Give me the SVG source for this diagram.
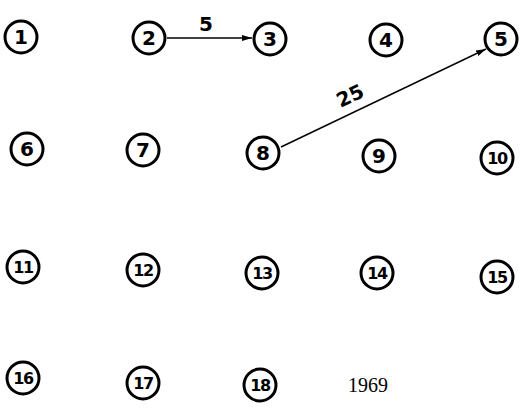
<svg xmlns="http://www.w3.org/2000/svg" width="525" height="410" viewBox="0 0 525 410">
<style>
.n circle{fill:#fff;stroke:#000;stroke-width:3}
.n text{font-family:"DejaVu Sans","Liberation Sans",sans-serif;font-size:20px;font-weight:bold;text-anchor:middle;dominant-baseline:central;fill:#000}
.n text.s{font-size:16px;letter-spacing:-1.5px}
.e{stroke:#000;stroke-width:1.4;fill:none}
.l{font-family:"DejaVu Sans","Liberation Sans",sans-serif;font-size:20px;font-weight:bold;fill:#000}
</style>
<defs>
<marker id="ah" viewBox="0 0 10 6" refX="10" refY="3" markerWidth="10" markerHeight="6" markerUnits="userSpaceOnUse" orient="auto">
<path d="M0,0 L10,3 L0,6 Z" fill="#000"/>
</marker>
</defs>
<g id="connectors">
<line class="e" x1="167" y1="38" x2="252" y2="38" marker-end="url(#ah)"/>
<text class="l" x="206" y="31" text-anchor="middle">5</text>
<line class="e" x1="281" y1="147" x2="486" y2="49" marker-end="url(#ah)"/>
<text class="l" x="353" y="102" text-anchor="middle" transform="rotate(-25 353 102)">25</text>
</g>
<g id="n1" class="n"><circle cx="21" cy="37" r="16"/><text x="21" y="37">1</text></g>
<g id="n2" class="n"><circle cx="149" cy="38" r="16"/><text x="149" y="38">2</text></g>
<g id="n3" class="n"><circle cx="270" cy="39" r="16"/><text x="270" y="39">3</text></g>
<g id="n4" class="n"><circle cx="386" cy="40" r="16"/><text x="386" y="40">4</text></g>
<g id="n5" class="n"><circle cx="501" cy="39" r="16"/><text x="501" y="39">5</text></g>
<g id="n6" class="n"><circle cx="27" cy="149" r="16"/><text x="27" y="149">6</text></g>
<g id="n7" class="n"><circle cx="143" cy="150" r="16"/><text x="143" y="150">7</text></g>
<g id="n8" class="n"><circle cx="263" cy="153" r="16"/><text x="263" y="153">8</text></g>
<g id="n9" class="n"><circle cx="379" cy="156" r="16"/><text x="379" y="156">9</text></g>
<g id="n10" class="n"><circle cx="497" cy="158" r="16"/><text class="s" x="497" y="158">10</text></g>
<g id="n11" class="n"><circle cx="23" cy="267" r="16"/><text class="s" x="23" y="267">11</text></g>
<g id="n12" class="n"><circle cx="143" cy="270" r="16"/><text class="s" x="143" y="270">12</text></g>
<g id="n13" class="n"><circle cx="262" cy="273" r="16"/><text class="s" x="262" y="273">13</text></g>
<g id="n14" class="n"><circle cx="377" cy="273" r="16"/><text class="s" x="377" y="273">14</text></g>
<g id="n15" class="n"><circle cx="497" cy="277" r="16"/><text class="s" x="497" y="277">15</text></g>
<g id="n16" class="n"><circle cx="23" cy="378" r="16"/><text class="s" x="23" y="378">16</text></g>
<g id="n17" class="n"><circle cx="143" cy="383" r="16"/><text class="s" x="143" y="383">17</text></g>
<g id="n18" class="n"><circle cx="260" cy="385" r="16"/><text class="s" x="260" y="385">18</text></g>
<text x="348" y="392" font-family="'Liberation Serif',serif" font-size="20" fill="#000">1969</text>
</svg>
